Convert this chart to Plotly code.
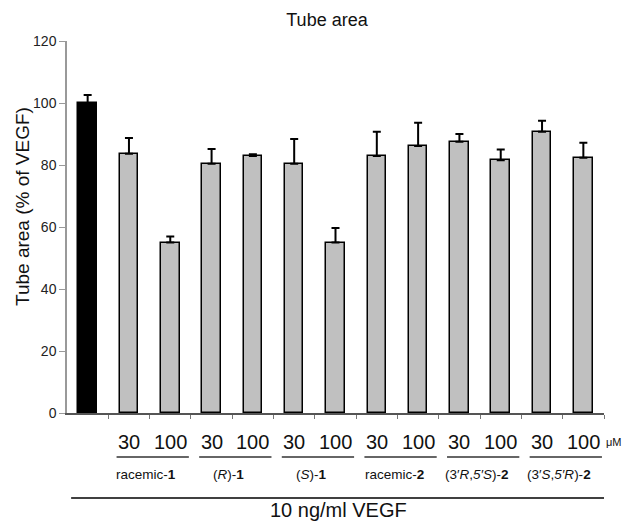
import plotly.graph_objects as go

# ---- data ----
categories = ["VEGF", "r1-30", "r1-100", "R1-30", "R1-100", "S1-30", "S1-100",
              "r2-30", "r2-100", "RS2-30", "RS2-100", "SR2-30", "SR2-100"]
values = [100, 83.6, 55.0, 80.4, 82.9, 80.4, 55.0, 82.9, 86.1, 87.5, 81.5, 90.7, 82.3]
errors = [2.6, 5.1, 1.9, 4.8, 0.6, 8.0, 4.7, 7.8, 7.5, 2.5, 3.5, 3.6, 4.9]
dose_labels = ["30", "100"]
group_labels = ["racemic-<b>1</b>", "(<i>R</i>)-<b>1</b>", "(<i>S</i>)-<b>1</b>",
                "racemic-<b>2</b>", "(3′<i>R</i>,<i>5′S</i>)-<b>2</b>",
                "(3′<i>S</i>,<i>5′R</i>)-<b>2</b>"]
y_ticks = [0, 20, 40, 60, 80, 100, 120]

FONT = "Liberation Sans, Arial, sans-serif"
n = len(categories)
xs = list(range(n))
colors = ["black"] + ["#c0c0c0"] * (n - 1)

# page has an 8px body margin; figure is sized/offset to compensate
OFF = 8
W, H = 637 - OFF, 523 - OFF

fig = go.Figure()
fig.add_trace(go.Bar(
    x=xs, y=values, width=0.45,
    marker=dict(color=colors, line=dict(color="black", width=1.5)),
    error_y=dict(type="data", array=errors, arrayminus=[0] * n, symmetric=False,
                 color="black", thickness=2, width=4),
    showlegend=False,
))

# plot area in page pixels: top 41, bottom 413 -> height 372; left 67, width 537
def py(pix):
    return (413 - pix) / 372.0

def px(pix):
    return (pix - 67) / 537.0

annotations = []
shapes = []
for g, lab in enumerate(group_labels):
    a = 1 + 2 * g
    b = a + 1
    annotations.append(dict(x=a, y=py(442), xref="x", yref="paper", text=dose_labels[0],
                            showarrow=False, font=dict(size=20, color="#111", family=FONT),
                            xanchor="center", yanchor="middle"))
    annotations.append(dict(x=b, y=py(442), xref="x", yref="paper", text=dose_labels[1],
                            showarrow=False, font=dict(size=20, color="#111", family=FONT),
                            xanchor="center", yanchor="middle"))
    shapes.append(dict(type="line", xref="x", yref="paper", x0=a - 0.3, x1=b + 0.45,
                       y0=py(457), y1=py(457), line=dict(color="#333", width=1.5)))
    annotations.append(dict(x=a + 0.42, y=py(474), xref="x", yref="paper", text=lab,
                            showarrow=False, font=dict(size=13.5, color="#111", family=FONT),
                            xanchor="center", yanchor="middle"))

annotations.append(dict(x=px(624), y=py(442), xref="paper", yref="paper", text="μM",
                        showarrow=False, font=dict(size=11, color="#111", family=FONT),
                        xanchor="right", yanchor="middle"))
shapes.append(dict(type="line", xref="x", yref="paper", x0=-0.4, x1=12.55,
                   y0=py(498), y1=py(498), line=dict(color="black", width=1.5)))
annotations.append(dict(x=px(338), y=py(510), xref="paper", yref="paper",
                        text="10 ng/ml VEGF",
                        showarrow=False, font=dict(size=20, color="#111", family=FONT),
                        xanchor="center", yanchor="middle"))
annotations.append(dict(x=px(22), y=py(207), xref="paper", yref="paper",
                        text="Tube area (% of VEGF)", textangle=-90,
                        showarrow=False, font=dict(size=19, color="#111", family=FONT),
                        xanchor="center", yanchor="middle"))

fig.update_layout(
    width=W, height=H,
    margin=dict(l=67 - OFF, r=33, t=41 - OFF, b=110, pad=0),
    paper_bgcolor="white", plot_bgcolor="white",
    font=dict(family=FONT, color="#111"),
    title=dict(text="Tube area", x=(327 - OFF) / W, xanchor="center",
               y=1 - (20 - OFF) / H, yanchor="middle", font=dict(size=18, color="#111")),
    bargap=0,
    annotations=annotations,
    shapes=shapes,
)
fig.update_xaxes(
    range=[-0.5, n - 0.5], showgrid=False, zeroline=False,
    showline=True, linecolor="#555", linewidth=1.5,
    tickmode="array", tickvals=[i + 0.5 for i in range(n)], ticktext=[""] * n,
    ticks="outside", ticklen=4, tickcolor="#777", tickwidth=1,
)
fig.update_yaxes(
    range=[0, 120], tickvals=y_ticks, showgrid=False, zeroline=False,
    showline=True, linecolor="#999", linewidth=1.5,
    ticks="outside", ticklen=6, tickcolor="#999",
    tickfont=dict(size=14, color="#222", family=FONT),
)

fig.write_html("out.html")
